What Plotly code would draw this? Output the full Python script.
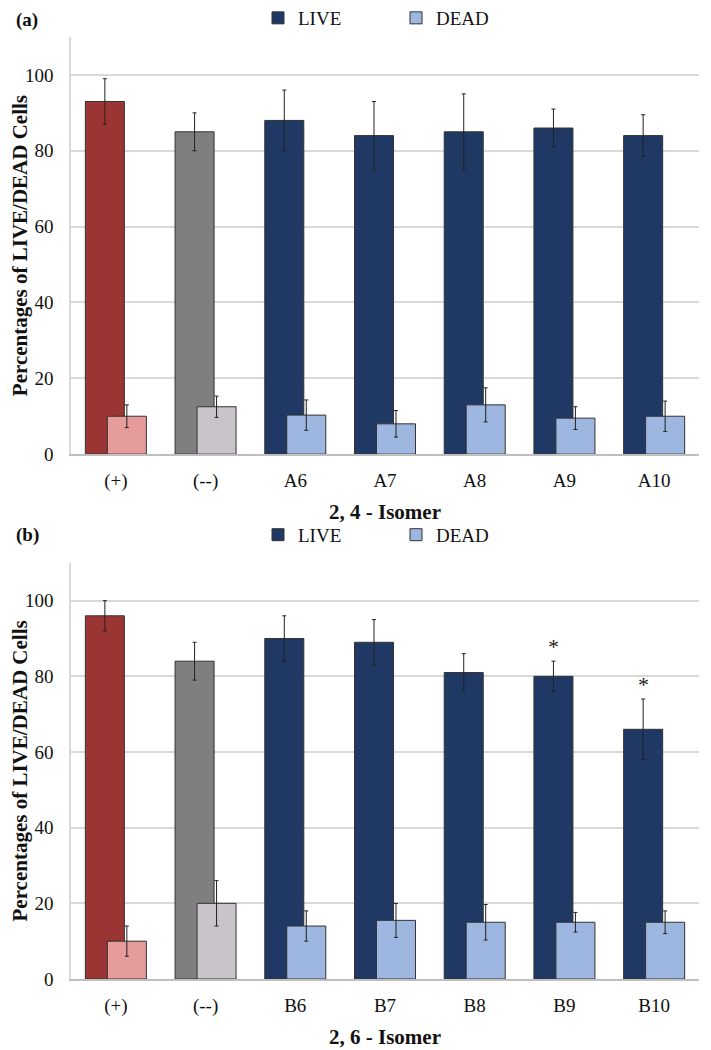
import plotly.graph_objects as go

# ---------------- data ----------------
cats_a = ["(+)", "(--)", "A6", "A7", "A8", "A9", "A10"]
live_a = [93, 85, 88, 84, 85, 86, 84]
live_a_err = [6, 5, 8, 9, 10, 5, 5.5]
dead_a = [10, 12.5, 10.3, 8, 13, 9.5, 10]
dead_a_err = [3, 2.8, 4, 3.5, 4.5, 3, 4]

cats_b = ["(+)", "(--)", "B6", "B7", "B8", "B9", "B10"]
live_b = [96, 84, 90, 89, 81, 80, 66]
live_b_err = [4, 5, 6, 6, 5, 4, 8]
dead_b = [10, 20, 14, 15.5, 15, 15, 15]
dead_b_err = [4, 6, 4, 4.5, 4.7, 2.6, 3]
signif_b = ["B9", "B10"]

# ---------------- style ----------------
NAVY = "#1f3864"
LBLUE = "#9db7e0"
live_colors = ["#9b3533", "#7f7f7f"] + [NAVY] * 5
dead_colors = ["#e59c9a", "#c9c4c9"] + [LBLUE] * 5
FONT = "Liberation Serif"
BW = 0.435
LIVE_OFF = -0.34
DEAD_OFF = -0.095

fig = go.Figure()


def add_panel(cats, live, live_err, dead, dead_err, xa, ya):
    fig.add_trace(go.Bar(
        x=cats, y=live, xaxis=xa, yaxis=ya, width=BW, offset=LIVE_OFF,
        marker=dict(color=live_colors, line=dict(color="#333333", width=1)),
        error_y=dict(type="data", array=live_err, color="#222222", thickness=1, width=2),
        showlegend=False, name="LIVE"))
    fig.add_trace(go.Bar(
        x=cats, y=dead, xaxis=xa, yaxis=ya, width=BW, offset=DEAD_OFF,
        marker=dict(color=dead_colors, line=dict(color="#333333", width=1)),
        error_y=dict(type="data", array=dead_err, color="#222222", thickness=1, width=2),
        showlegend=False, name="DEAD"))


add_panel(cats_a, live_a, live_a_err, dead_a, dead_a_err, "x", "y")
add_panel(cats_b, live_b, live_b_err, dead_b, dead_b_err, "x2", "y2")

# legend entries
for leg, xa, ya in [("legend", "x", "y"), ("legend2", "x2", "y2")]:
    fig.add_trace(go.Bar(x=[None], y=[None], name="LIVE", legend=leg, xaxis=xa, yaxis=ya,
                         marker=dict(color=NAVY, line=dict(color="#333333", width=1))))
    fig.add_trace(go.Bar(x=[None], y=[None], name="DEAD", legend=leg, xaxis=xa, yaxis=ya,
                         marker=dict(color=LBLUE, line=dict(color="#333333", width=1))))

# significance asterisks
for c in signif_b:
    i = cats_b.index(c)
    fig.add_annotation(x=i + LIVE_OFF + BW / 2, y=live_b[i] + live_b_err[i] + 3.8,
                       xref="x2", yref="y2", text="*", showarrow=False,
                       font=dict(family=FONT, size=22, color="#222222"))

yax = dict(range=[0, 110], tickvals=[0, 20, 40, 60, 80, 100], showgrid=True,
           gridcolor="#d9d9d9", gridwidth=1.5, showline=True, linecolor="#d9d9d9",
           linewidth=1.5, zeroline=False, ticks="", ticklabelstandoff=12,
           tickfont=dict(family=FONT, size=19, color="#111111"),
           title=dict(text="<b>Percentages of LIVE/DEAD Cells</b>", standoff=5,
                      font=dict(family=FONT, size=21, color="#111111")))
xax = dict(type="category", showgrid=False, showline=True, linecolor="#bfbfbf",
           linewidth=1.5, ticks="", ticklabelstandoff=8,
           tickfont=dict(family=FONT, size=19, color="#111111"))

# page body has an 8px margin: figure starts at (8, 8) in the window
PLOT_L, PLOT_R, PLOT_T, PLOT_B = 71, 699, 37, 979.3
W = 711 - 8
H = 1050 - 8
pw = PLOT_R - PLOT_L
ph = PLOT_B - PLOT_T


def py(pix):
    return (PLOT_B - pix) / ph


def px(pix):
    return (pix - PLOT_L) / pw


fig.update_layout(
    width=W, height=H, barmode="overlay",
    paper_bgcolor="white", plot_bgcolor="white",
    margin=dict(l=PLOT_L - 8, r=711 - PLOT_R, t=PLOT_T - 8, b=1050 - PLOT_B, autoexpand=False),
    font=dict(family=FONT, color="#111111"),
    xaxis=dict(xax, domain=[0, 1], anchor="y",
               title=dict(text="<b>2, 4 - Isomer</b>", standoff=14,
                          font=dict(family=FONT, size=21))),
    yaxis=dict(yax, domain=[py(454.3), 1], anchor="x"),
    xaxis2=dict(xax, domain=[0, 1], anchor="y2",
                title=dict(text="<b>2, 6 - Isomer</b>", standoff=14,
                           font=dict(family=FONT, size=21))),
    yaxis2=dict(yax, domain=[0, py(563)], anchor="x2"),
    legend=dict(orientation="h", x=px(258), xanchor="left", y=py(18), yanchor="middle",
                font=dict(family=FONT, size=19), bgcolor="rgba(0,0,0,0)", entrywidth=93),
    legend2=dict(orientation="h", x=px(258), xanchor="left", y=py(535), yanchor="middle",
                 font=dict(family=FONT, size=19), bgcolor="rgba(0,0,0,0)", entrywidth=93),
    showlegend=True,
)

fig.add_annotation(text="<b>(a)</b>", x=px(14), y=py(20), xref="paper", yref="paper",
                   xanchor="left", yanchor="middle", showarrow=False,
                   font=dict(family=FONT, size=19))
fig.add_annotation(text="<b>(b)</b>", x=px(14), y=py(535), xref="paper", yref="paper",
                   xanchor="left", yanchor="middle", showarrow=False,
                   font=dict(family=FONT, size=19))

fig.write_html("out.html")
